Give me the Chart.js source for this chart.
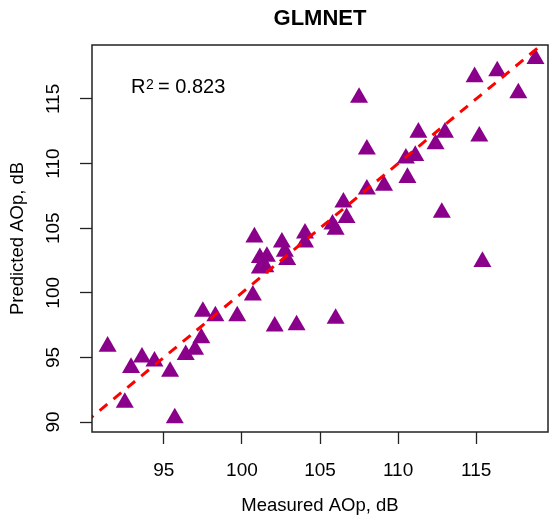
<!DOCTYPE html>
<html>
<head>
<meta charset="utf-8">
<script src="https://cdn.jsdelivr.net/npm/chart.js@4.4.0/dist/chart.umd.min.js"></script>
<style>
  html, body { margin: 0; padding: 0; background: #fff; }
</style>
</head>
<body>
<canvas id="chart" width="549" height="523"></canvas>
<script>
const measured = [
  91.4, 92.5, 92.9, 93.6, 94.4, 95.7, 95.4, 96.4, 97.0, 97.4,
  97.5, 98.3, 99.7, 100.7, 100.8, 101.15, 101.6, 101.15, 101.5, 102.56,
  102.75, 102.9, 104.04, 104.04, 102.1, 103.5, 106.0, 105.8, 106.0, 106.7,
  106.5, 107.5, 108.0, 108.0, 109.1, 110.6, 110.5, 111.1, 111.3, 112.4,
  113.0, 112.8, 115.2, 114.9, 116.35, 117.7, 118.8, 115.4
];
const predicted = [
  95.85, 91.5, 94.2, 95.0, 94.7, 90.3, 93.9, 95.2, 95.6, 96.5,
  98.55, 98.2, 98.2, 99.8, 104.3, 102.7, 102.8, 101.9, 102.0, 103.9,
  103.2, 102.55, 104.6, 103.9, 97.4, 97.5, 98.0, 105.3, 104.9, 105.8,
  107.0, 115.1, 111.1, 108.0, 108.3, 108.9, 110.4, 110.6, 112.4, 111.5,
  112.4, 106.2, 112.1, 116.7, 117.15, 115.45, 118.1, 102.4
];

// línea de referencia 1:1
const fitLineX = [90, 120];
const fitLineY = [90, 120];

const xRange = [90.4, 119.6];
const yRange = [89.23, 119.17];
const tickStep = 5;

const chartTitle = 'GLMNET';
const xTitle = 'Measured AOp, dB';
const yTitle = 'Predicted AOp, dB';
const r2Value = '0.823';

const fontFamily = '"Liberation Sans", Arial, Helvetica, sans-serif';

// Caja alrededor del área y texto R²
const boxAndLabel = {
    id: 'boxAndLabel',
    afterDraw(chart) {
        const { ctx, chartArea } = chart;
        ctx.save();
        ctx.strokeStyle = '#222';
        ctx.lineWidth = 1.5;
        ctx.strokeRect(chartArea.left, chartArea.top, chartArea.right - chartArea.left, chartArea.bottom - chartArea.top);

        const x0 = chartArea.left + 39;
        const base = chartArea.top + 48;
        ctx.fillStyle = '#000';
        ctx.textBaseline = 'alphabetic';
        ctx.textAlign = 'left';
        ctx.font = '20px ' + fontFamily;
        ctx.fillText('R', x0, base);
        const rw = ctx.measureText('R').width;
        ctx.font = '14px ' + fontFamily;
        ctx.fillText('2', x0 + rw + 0.5, base - 4);
        ctx.font = '20px ' + fontFamily;
        ctx.fillText('= ' + r2Value, x0 + 27, base);
        ctx.restore();
    }
};

const points = measured.map((m, i) => ({ x: m, y: predicted[i] }));
const linePoints = fitLineX.map((x, i) => ({ x: x, y: fitLineY[i] }));

new Chart(document.getElementById('chart').getContext('2d'), {
    type: 'scatter',
    data: {
        datasets: [
            {
                type: 'line',
                data: linePoints,
                borderColor: '#ff0000',
                borderWidth: 3,
                borderDash: [10, 8],
                pointRadius: 0,
                fill: false,
            },
            {
                data: points,
                pointStyle: 'triangle',
                pointRadius: 10.4,
                backgroundColor: '#8b008b',
                borderColor: '#8b008b',
                borderWidth: 0,
            },
        ],
    },
    options: {
        responsive: false,
        animation: false,
        events: [],
        layout: { autoPadding: false, padding: { left: 0, right: 1, top: 0, bottom: 0 } },
        plugins: {
            legend: { display: false },
            tooltip: { enabled: false },
            title: {
                display: true,
                text: chartTitle,
                fullSize: false,
                color: '#000',
                font: { family: fontFamily, size: 22, weight: 'bold', lineHeight: 1.2 },
                padding: { top: 6, bottom: 12.6 },
            },
        },
        scales: {
            x: {
                type: 'linear',
                position: 'bottom',
                min: xRange[0],
                max: xRange[1],
                afterFit: scale => {
                    scale.height = 91;
                    scale.paddingLeft = 0;
                    scale.paddingRight = 0;
                },
                ticks: {
                    stepSize: tickStep,
                    includeBounds: false,
                    color: '#000',
                    padding: 15,
                    maxRotation: 0,
                    font: { family: fontFamily, size: 19 },
                },
                grid: {
                    drawOnChartArea: false,
                    drawTicks: true,
                    tickLength: 12,
                    tickColor: '#222',
                    tickWidth: 1.3,
                },
                border: { display: false },
                title: {
                    display: true,
                    text: xTitle,
                    color: '#000',
                    font: { family: fontFamily, size: 18.5 },
                    padding: { top: 0, bottom: 5.8 },
                },
            },
            y: {
                type: 'linear',
                min: yRange[0],
                max: yRange[1],
                afterFit: scale => {
                    scale.width = 92;
                    scale.paddingTop = 0;
                    scale.paddingBottom = 0;
                },
                ticks: {
                    stepSize: tickStep,
                    includeBounds: false,
                    color: '#000',
                    padding: 10,
                    minRotation: 90,
                    maxRotation: 90,
                    crossAlign: 'center',
                    font: { family: fontFamily, size: 19 },
                },
                grid: {
                    drawOnChartArea: false,
                    drawTicks: true,
                    tickLength: 12,
                    tickColor: '#222',
                    tickWidth: 1.3,
                },
                border: { display: false },
                title: {
                    display: true,
                    text: yTitle,
                    color: '#000',
                    font: { family: fontFamily, size: 18.5 },
                    padding: { top: 6.8, bottom: 0 },
                },
            },
        },
    },
    plugins: [boxAndLabel],
});
</script>
</body>
</html>
